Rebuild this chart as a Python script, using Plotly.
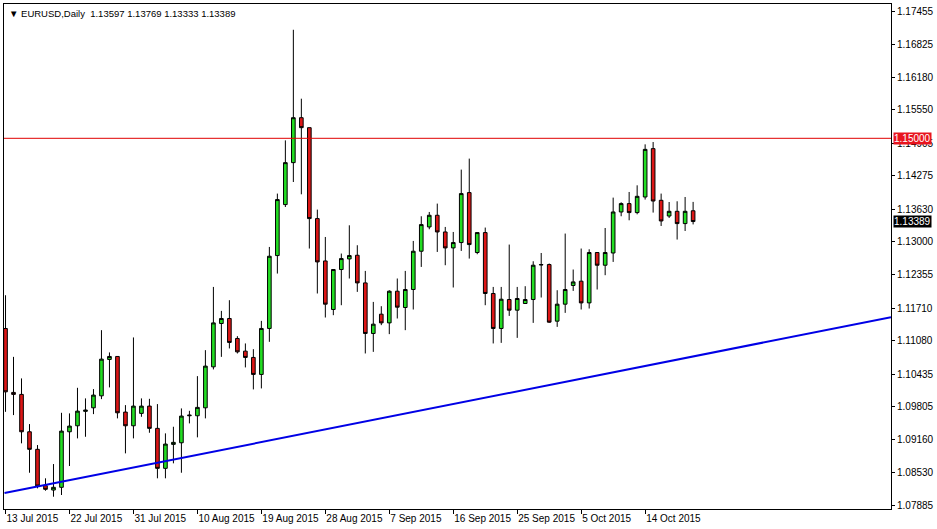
import pandas as pd
import plotly.graph_objects as go

# daily feed with Sunday bars (no Saturday bars)
all_days = pd.date_range("2015-07-13", "2015-10-21", freq="D")
dates = [d for d in all_days if d.dayofweek != 5]

opens = [
    1.11318, 1.10081, 1.10042, 1.09319, 1.08979, 1.08275, 1.08191, 1.08244, 1.09319, 1.09435,
    1.09714, 1.09783, 1.10015, 1.10719, 1.10777, 1.09700, 1.09435, 1.09675, 1.09816, 1.09385,
    1.08611, 1.09075, 1.09106, 1.09629, 1.09629, 1.09783, 1.10576, 1.11415, 1.11512, 1.11125,
    1.10880, 1.10758, 1.10429, 1.11319, 1.12730, 1.13717, 1.14529, 1.15399, 1.15206, 1.13446,
    1.12626, 1.11686, 1.12460, 1.12665, 1.12736, 1.12201, 1.11222, 1.11595, 1.11427, 1.12040,
    1.11725, 1.12073, 1.12814, 1.13284, 1.13510, 1.13187, 1.12878, 1.12982, 1.13949, 1.12789,
    1.13175, 1.11996, 1.11319, 1.11879, 1.11673, 1.11802, 1.11879, 1.12549, 1.12556, 1.11460,
    1.11789, 1.12151, 1.12234, 1.11814, 1.12789, 1.12543, 1.12780, 1.13574, 1.13736, 1.13562,
    1.13864, 1.14800, 1.13800, 1.13496, 1.13587, 1.13349, 1.13597,
]
highs = [
    1.11962, 1.10769, 1.10352, 1.09468, 1.09062, 1.08418, 1.08694, 1.09686, 1.09675, 1.10170,
    1.09965, 1.10145, 1.11286, 1.10855, 1.10777, 1.09835, 1.11145, 1.09965, 1.09957, 1.09855,
    1.09288, 1.09416, 1.09771, 1.09725, 1.10396, 1.10899, 1.12123, 1.11659, 1.11866, 1.11170,
    1.11029, 1.10918, 1.11466, 1.12897, 1.13930, 1.14960, 1.17101, 1.15767, 1.15206, 1.13620,
    1.13090, 1.12460, 1.12769, 1.13316, 1.12930, 1.12433, 1.11833, 1.11750, 1.12059, 1.12286,
    1.12433, 1.13013, 1.13491, 1.13574, 1.13736, 1.13284, 1.13187, 1.14394, 1.14607, 1.13175,
    1.13272, 1.12123, 1.12123, 1.12943, 1.12123, 1.12137, 1.12620, 1.12780, 1.12576, 1.12059,
    1.13156, 1.12460, 1.12866, 1.12852, 1.12789, 1.13264, 1.13852, 1.13761, 1.13961, 1.14090,
    1.14883, 1.14928, 1.13930, 1.13767, 1.13781, 1.13864, 1.13769,
]
lows = [
    1.09705, 1.09642, 1.09095, 1.08526, 1.08224, 1.08178, 1.08062, 1.08095, 1.08656, 1.09191,
    1.09222, 1.09661, 1.09951, 1.10178, 1.09578, 1.08901, 1.09191, 1.09609, 1.09300, 1.08418,
    1.08418, 1.08708, 1.08526, 1.09481, 1.09211, 1.09578, 1.10526, 1.10769, 1.10932, 1.10835,
    1.10565, 1.10139, 1.10158, 1.11060, 1.12382, 1.13670, 1.14154, 1.13916, 1.12866, 1.11996,
    1.11531, 1.11576, 1.11769, 1.12286, 1.12027, 1.10835, 1.10866, 1.11383, 1.11209, 1.11512,
    1.11286, 1.11686, 1.12510, 1.13239, 1.12800, 1.12543, 1.12112, 1.12820, 1.12672, 1.12756,
    1.11769, 1.11029, 1.11040, 1.11562, 1.11137, 1.11800, 1.11427, 1.11918, 1.11427, 1.11350,
    1.11621, 1.12046, 1.11686, 1.11705, 1.12073, 1.12350, 1.12607, 1.13491, 1.13413, 1.13529,
    1.13814, 1.13562, 1.13303, 1.13458, 1.13040, 1.13206, 1.13333,
]
closes = [
    1.10092, 1.10042, 1.09319, 1.08979, 1.08269, 1.08205, 1.08244, 1.09332, 1.09429, 1.09719,
    1.09739, 1.10029, 1.10725, 1.10777, 1.09686, 1.09435, 1.09816, 1.09816, 1.09385, 1.08611,
    1.09081, 1.09114, 1.09623, 1.09640, 1.09791, 1.10590, 1.11427, 1.11512, 1.11048, 1.10866,
    1.10758, 1.10429, 1.11319, 1.12717, 1.13814, 1.14529, 1.15399, 1.15206, 1.13446, 1.12607,
    1.11789, 1.12460, 1.12672, 1.12730, 1.12201, 1.11222, 1.11402, 1.11427, 1.12040, 1.11731,
    1.12073, 1.12814, 1.13330, 1.13510, 1.13187, 1.12878, 1.12982, 1.13930, 1.12943, 1.13175,
    1.11996, 1.11319, 1.11885, 1.11673, 1.11899, 1.11879, 1.12543, 1.12555, 1.11441, 1.11789,
    1.12073, 1.12220, 1.11814, 1.12789, 1.12543, 1.12789, 1.13574, 1.13736, 1.13562, 1.13877,
    1.14786, 1.13786, 1.13400, 1.13587, 1.13349, 1.13587, 1.13389,
]

price_ticks = [
    1.17455, 1.16825, 1.16180, 1.15550, 1.14905, 1.14275, 1.13630, 1.13000,
    1.12355, 1.11710, 1.11080, 1.10435, 1.09805, 1.09160, 1.08530, 1.07885,
]
resistance = 1.15000
# trend line drawn between two bar positions / prices
trend_x = [-0.125, 110.75]
trend_y = [1.08133, 1.11537]

bar_pos = list(range(len(dates)))
date_tick_pos = bar_pos[::8]
date_tick_text = [f"{dates[i].day} {dates[i].strftime('%b %Y')}" for i in date_tick_pos]

FONT = "Liberation Sans"

fig = go.Figure(
    go.Candlestick(
        x=bar_pos,
        open=opens,
        high=highs,
        low=lows,
        close=closes,
        increasing=dict(fillcolor="#22DD22", line=dict(color="black", width=1)),
        decreasing=dict(fillcolor="#DC1616", line=dict(color="black", width=1)),
        whiskerwidth=0,
        hoverinfo="skip",
    )
)

fig.add_shape(
    type="line", xref="paper", yref="y", x0=0, x1=1, y0=resistance, y1=resistance,
    line=dict(color="#E00000", width=1),
)
fig.add_shape(
    type="line", xref="x", yref="y",
    x0=trend_x[0], x1=trend_x[1], y0=trend_y[0], y1=trend_y[1],
    line=dict(color="#0000E6", width=2),
)

fig.add_annotation(
    xref="paper", yref="paper", x=0, y=1, xanchor="left", yanchor="top",
    xshift=3, yshift=-2, showarrow=False,
    text=f"\u25bc EURUSD,Daily  {opens[-1]:.5f} {highs[-1]:.5f} {lows[-1]:.5f} {closes[-1]:.5f}",
    font=dict(family=FONT, size=9.5, color="black"),
)
for val, bg in [(resistance, "#E8141E"), (closes[-1], "black")]:
    fig.add_annotation(
        xref="paper", yref="y", x=1, y=val, xanchor="left", yanchor="middle",
        xshift=2, showarrow=False, text=f"{val:.5f}", bgcolor=bg, borderpad=0,
        font=dict(family=FONT, size=10, color="white"),
    )

fig.update_xaxes(
    range=[-0.19, 110.75],
    tickvals=date_tick_pos,
    ticktext=date_tick_text,
    tickangle=0,
    ticks="outside",
    ticklen=4,
    tickcolor="black",
    ticklabelposition="outside right",
    showgrid=False,
    zeroline=False,
    showline=True,
    mirror=True,
    linecolor="black",
    linewidth=1,
    rangeslider_visible=False,
    automargin=False,
)
fig.update_yaxes(
    side="right",
    range=[1.07824, 1.17600],
    tickvals=price_ticks,
    ticktext=[f"{v:.5f}" for v in price_ticks],
    ticks="outside",
    ticklen=3,
    tickcolor="black",
    showgrid=False,
    zeroline=False,
    showline=True,
    mirror=True,
    linecolor="black",
    linewidth=1,
    automargin=False,
)
fig.update_layout(
    width=937,
    height=529,
    margin=dict(l=4, r=46, t=4, b=20),
    plot_bgcolor="white",
    paper_bgcolor="white",
    font=dict(family=FONT, size=10, color="black"),
    showlegend=False,
    boxgap=0.35,
)

fig.write_html(
    "out.html",
    config={"displayModeBar": False},
    post_script="document.body.style.margin='0';document.body.style.overflow='hidden';",
)
